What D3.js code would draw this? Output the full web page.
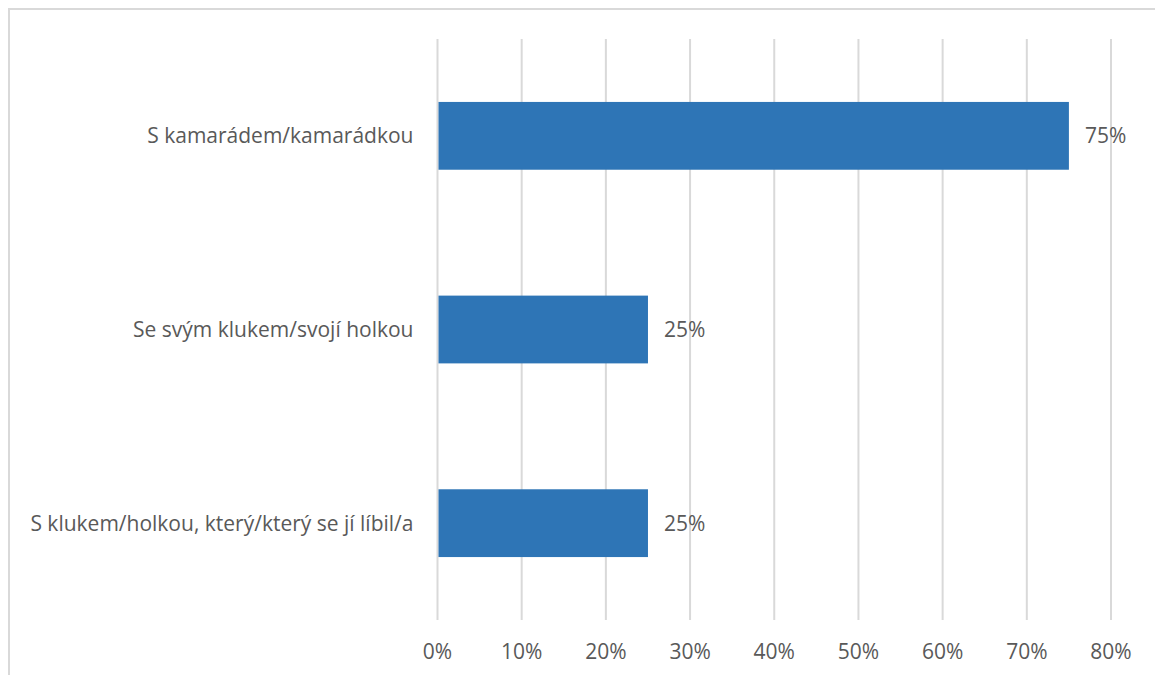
<!DOCTYPE html>
<html>
<head>
<meta charset="utf-8">
<script src="https://cdn.jsdelivr.net/npm/d3@7"></script>
<style>
  body { margin: 0; background: #fff; }
  text { font-family: "Open Sans", sans-serif; fill: #595959; }
</style>
</head>
<body>
<div id="chart"></div>
<script>
const categories = ["S kamarádem/kamarádkou", "Se svým klukem/svojí holkou", "S klukem/holkou, který/který se jí líbil/a"];
const values = [0.75, 0.25, 0.25];
const ticks = [0, 0.1, 0.2, 0.3, 0.4, 0.5, 0.6, 0.7, 0.8];

const width = 1155, height = 675;
const margin = { top: 39, right: 44, bottom: 55, left: 437.5 };
const fontSize = "21px";

const svg = d3.select("#chart").append("svg")
  .attr("width", width)
  .attr("height", height);

// chart border (runs off the right and bottom edges)
svg.append("rect")
  .attr("x", 9).attr("y", 9)
  .attr("width", width + 20).attr("height", height + 20)
  .attr("fill", "none")
  .attr("stroke", "#d9d9d9")
  .attr("stroke-width", 2);

const x = d3.scaleLinear()
  .domain([0, 0.8])
  .range([margin.left, width - margin.right]);

const y = d3.scaleBand()
  .domain(categories)
  .range([margin.top, height - margin.bottom])
  .paddingInner(0.65)
  .paddingOuter(0.325);

// gridlines
svg.append("g")
  .selectAll("line")
  .data(ticks)
  .join("line")
  .attr("x1", d => x(d)).attr("x2", d => x(d))
  .attr("y1", margin.top).attr("y2", height - margin.bottom)
  .attr("stroke", "#d9d9d9")
  .attr("stroke-width", 2);

// bars
svg.append("g")
  .selectAll("rect")
  .data(values)
  .join("rect")
  .attr("x", x(0) + 1)
  .attr("y", (d, i) => y(categories[i]))
  .attr("width", d => x(d) - x(0) - 1)
  .attr("height", y.bandwidth())
  .attr("fill", "#2e75b6");

// value labels
svg.append("g")
  .selectAll("text")
  .data(values)
  .join("text")
  .attr("x", d => x(d) + 16)
  .attr("y", (d, i) => y(categories[i]) + y.bandwidth() / 2)
  .attr("dy", "0.35em")
  .style("font-size", fontSize)
  .text(d => d3.format(".0%")(d));

// category labels
svg.append("g")
  .selectAll("text")
  .data(categories)
  .join("text")
  .attr("x", x(0) - 24)
  .attr("y", d => y(d) + y.bandwidth() / 2)
  .attr("dy", "0.35em")
  .attr("text-anchor", "end")
  .style("font-size", fontSize)
  .text(d => d);

// x tick labels
svg.append("g")
  .selectAll("text")
  .data(ticks)
  .join("text")
  .attr("x", d => x(d))
  .attr("y", 652)
  .attr("dy", "0.35em")
  .attr("text-anchor", "middle")
  .style("font-size", fontSize)
  .text(d => d3.format(".0%")(d));
</script>
</body>
</html>
